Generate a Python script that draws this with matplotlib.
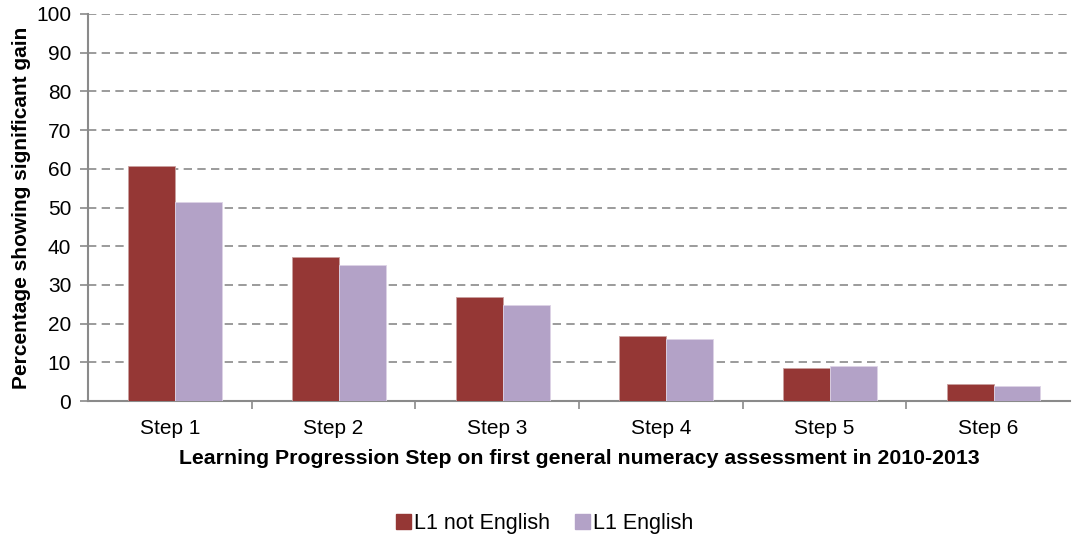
import numpy as np
import matplotlib.pyplot as plt
from matplotlib.patches import Patch

plt.rcParams['font.family'] = ['Liberation Sans', 'DejaVu Sans']

steps = ["Step 1", "Step 2", "Step 3", "Step 4", "Step 5", "Step 6"]
not_english = [60.6, 37.3, 26.8, 16.9, 8.6, 4.3]
english = [51.4, 35.2, 24.8, 15.9, 9.1, 3.8]

red = "#953735"
purple = "#B3A2C7"
grey = "#8a8a8a"

fig = plt.figure(figsize=(10.72, 5.38), dpi=100)
ax = fig.add_axes([0.082, 0.2546, 0.916, 0.7194])

x = np.arange(len(steps))
w = 0.287
ax.bar(x - 0.11, not_english, w, color=red, edgecolor="#c9a0a0", linewidth=0.6, zorder=3)
ax.bar(x + 0.177, english, w, color=purple, edgecolor="#ddd3e6", linewidth=0.6, zorder=3)

ax.set_xlim(-0.5, len(steps) - 0.5)
ax.set_ylim(0, 100)
ax.set_yticks(range(0, 101, 10))
ax.yaxis.grid(True, linestyle=(0, (5, 3.2)), color=grey, linewidth=1.2, zorder=0)

ax.set_xticks(x)
ax.set_xticklabels(steps)
ax.set_xticks(np.arange(0.5, len(steps) - 0.5), minor=True)
ax.tick_params(axis="x", which="major", length=0, pad=13, labelsize=15)
ax.tick_params(axis="x", which="minor", length=6, color=grey, width=1.2)
ax.tick_params(axis="y", length=6, color=grey, width=1.2, labelsize=15, pad=6)

for s in ["top", "right"]:
    ax.spines[s].set_visible(False)
for s in ["left", "bottom"]:
    ax.spines[s].set_color(grey)
    ax.spines[s].set_linewidth(1.5)

ax.set_ylabel("Percentage showing significant gain", fontsize=15, fontweight="bold", labelpad=4)
ax.set_xlabel("Learning Progression Step on first general numeracy assessment in 2010-2013",
              fontsize=15.3, fontweight="bold", labelpad=8)

handles = [Patch(color=red, label="L1 not English"), Patch(color=purple, label="L1 English")]
fig.legend(handles=handles, loc="center", bbox_to_anchor=(0.508, 0.027), ncol=2, frameon=False,
           fontsize=15.5, handlelength=0.7, handleheight=0.7, handletextpad=0.1, columnspacing=1.2)

fig.savefig("out.png", dpi=100)
